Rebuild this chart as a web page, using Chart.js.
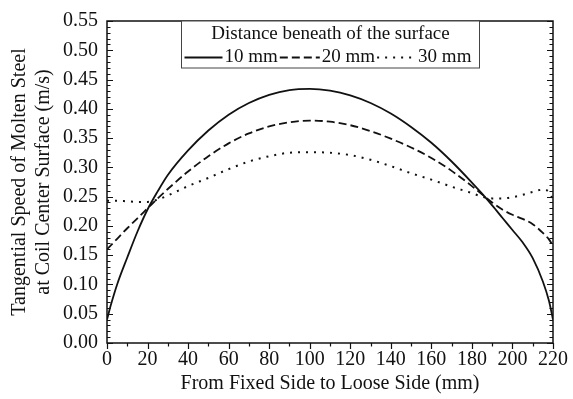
<!DOCTYPE html>
<html>
<head>
<meta charset="utf-8">
<script src="https://cdn.jsdelivr.net/npm/chart.js@4"></script>
<style>
  html, body { margin: 0; padding: 0; background: #fff; }
  #wrap { width: 573px; height: 399px; }
</style>
</head>
<body>
<div id="wrap"><canvas id="speedChart"></canvas></div>
<script>
// distance from fixed side (mm)
var distance = [0, 2, 5, 10, 15, 20, 25, 30, 40, 50, 60, 70, 80, 90, 100, 110,
                120, 130, 140, 150, 160, 170, 180, 185, 190, 195, 200, 205, 210, 215, 218, 220];
// tangential speed (m/s) at 10, 20, 30 mm beneath surface
var speed10 = [0.04, 0.066, 0.1, 0.146, 0.19, 0.228, 0.259, 0.287, 0.329, 0.363, 0.39, 0.41, 0.424, 0.432, 0.434, 0.431,
               0.423, 0.41, 0.392, 0.369, 0.342, 0.31, 0.274, 0.255, 0.235, 0.214, 0.193, 0.172, 0.145, 0.105, 0.072, 0.04];
var speed20 = [0.16, 0.167, 0.178, 0.196, 0.213, 0.23, 0.247, 0.263, 0.293, 0.319, 0.341, 0.358, 0.37, 0.377, 0.38, 0.378,
               0.372, 0.362, 0.349, 0.334, 0.316, 0.294, 0.268, 0.254, 0.24, 0.228, 0.219, 0.212, 0.203, 0.188, 0.177, 0.166];
var speed30 = [0.243, 0.243, 0.243, 0.242, 0.241, 0.241, 0.245, 0.252, 0.268, 0.282, 0.297, 0.31, 0.319, 0.325, 0.326, 0.325,
               0.321, 0.313, 0.302, 0.29, 0.279, 0.267, 0.256, 0.25, 0.247, 0.247, 0.249, 0.253, 0.258, 0.262, 0.258, 0.245];
var seriesNames = ["10 mm", "20 mm", "30 mm"];
var legendTitle = "Distance beneath of the surface";

var serif = "'Liberation Serif', 'Times New Roman', serif";
var ink = '#111';

function pts(ys) {
  return distance.map(function(x, i) { return {x: x, y: ys[i]}; });
}

// frame, inward/outward ticks and the boxed legend
var framePlugin = {
  id: 'frame',
  afterDraw: function(chart) {
    var ctx = chart.ctx, a = chart.chartArea;
    var xs = chart.scales.x, ys = chart.scales.y;
    ctx.save();
    ctx.strokeStyle = ink;
    ctx.lineWidth = 1.5;
    ctx.strokeRect(a.left, a.top, a.right - a.left, a.bottom - a.top);

    ctx.lineWidth = 1.2;
    ctx.beginPath();
    for (var i = 0; i <= 55; i++) {
      var py = Math.round(ys.getPixelForValue(i / 100)) + 0.5;
      var len = (i % 5 === 0) ? 6 : 3.5;
      ctx.moveTo(a.left, py); ctx.lineTo(a.left + len, py);
      ctx.moveTo(a.right, py); ctx.lineTo(a.right - len, py);
    }
    for (var k = 0; k <= 220; k += 10) {
      var px = Math.round(xs.getPixelForValue(k)) + 0.5;
      var l2 = (k % 20 === 0) ? 6 : 3.5;
      ctx.moveTo(px, a.bottom); ctx.lineTo(px, a.bottom + l2);
    }
    ctx.stroke();

    // legend box
    var bw = 298, bh = 47;
    var bx = Math.round((a.left + a.right) / 2 - bw / 2) + 0.5;
    var by = a.top;
    ctx.fillStyle = '#fff';
    ctx.fillRect(bx, by, bw, bh);
    ctx.strokeStyle = '#444';
    ctx.lineWidth = 1;
    ctx.strokeRect(bx, by, bw, bh);

    ctx.fillStyle = ink;
    ctx.font = "19px " + serif;
    ctx.textAlign = 'center';
    ctx.textBaseline = 'middle';
    ctx.fillText(legendTitle, bx + bw / 2, by + 13);

    var rowY = by + 36;
    var cur = bx + 3;
    var sampleW = [38, 40, 36];
    var gaps = [2, 2, 5];
    ctx.textAlign = 'left';
    chart.data.datasets.forEach(function(ds, j) {
      ctx.save();
      ctx.strokeStyle = ds.borderColor;
      ctx.lineWidth = ds.borderWidth;
      ctx.setLineDash(ds.borderDash || []);
      ctx.beginPath();
      ctx.moveTo(cur, rowY + 0.5);
      ctx.lineTo(cur + sampleW[j], rowY + 0.5);
      ctx.stroke();
      ctx.restore();
      cur += sampleW[j] + gaps[j];
      ctx.fillText(ds.label, cur, rowY);
      cur += ctx.measureText(ds.label).width + 2;
    });
    ctx.restore();
  }
};

var ctx = document.getElementById('speedChart').getContext('2d');
var myChart = new Chart(ctx, {
  type: 'line',
  data: {
    datasets: [{
      label: seriesNames[0],
      data: pts(speed10),
      borderColor: ink,
      borderWidth: 1.8,
      borderDash: [],
      pointRadius: 0,
      cubicInterpolationMode: 'monotone'
    }, {
      label: seriesNames[1],
      data: pts(speed20),
      borderColor: ink,
      borderWidth: 1.8,
      borderDash: [8, 4],
      pointRadius: 0,
      cubicInterpolationMode: 'monotone'
    }, {
      label: seriesNames[2],
      data: pts(speed30),
      borderColor: ink,
      borderWidth: 2,
      borderDash: [2, 6],
      pointRadius: 0,
      cubicInterpolationMode: 'monotone'
    }]
  },
  options: {
    responsive: true,
    maintainAspectRatio: false,
    animation: false,
    layout: { padding: { top: 16, right: 19, left: 0, bottom: 0 } },
    plugins: {
      legend: { display: false },
      tooltip: { enabled: false }
    },
    scales: {
      x: {
        type: 'linear',
        min: 0,
        max: 220,
        grid: { display: false, drawTicks: false },
        border: { display: false },
        ticks: {
          stepSize: 20,
          padding: 5,
          color: ink,
          font: { family: serif, size: 20 },
          maxRotation: 0
        },
        title: {
          display: true,
          text: 'From Fixed Side to Loose Side (mm)',
          color: ink,
          font: { family: serif, size: 20 },
          padding: { top: 0, bottom: 3 }
        },
        afterFit: function(scale) { scale.height = 56; }
      },
      y: {
        min: 0,
        max: 0.55,
        grid: { display: false, drawTicks: false },
        border: { display: false },
        ticks: {
          stepSize: 0.05,
          padding: 9,
          color: ink,
          font: { family: serif, size: 20 },
          callback: function(v) { return v.toFixed(2); }
        },
        title: {
          display: true,
          text: ['Tangential Speed of Molten Steel', 'at Coil Center Surface (m/s)'],
          color: ink,
          font: { family: serif, size: 20 },
          padding: { top: 8, bottom: 0 }
        },
        afterFit: function(scale) { scale.width = 107; }
      }
    }
  },
  plugins: [framePlugin]
});
</script>
</body>
</html>
